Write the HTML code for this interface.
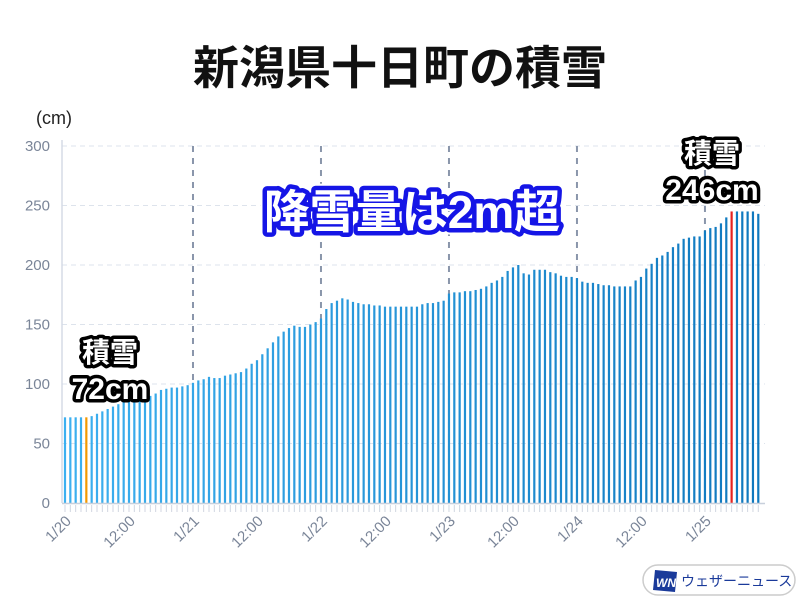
<!DOCTYPE html>
<html><head><meta charset="utf-8"><style>
html,body{margin:0;padding:0;background:#fff;}
svg{display:block;font-family:"Liberation Sans","Noto Sans CJK JP",sans-serif;}
</style></head><body>
<svg id="s" width="800" height="600" viewBox="0 0 800 600" xmlns="http://www.w3.org/2000/svg">
<text x="400" y="84" text-anchor="middle" font-size="46" font-weight="bold" fill="#111">新潟県十日町の積雪</text>
<text x="36" y="124" font-size="18" fill="#222">(cm)</text>
<g id="grid"></g>
<g id="bars"></g>
<g id="ticks"></g>
<g id="labels" font-size="15" fill="#7a8598"></g>
<g font-weight="bold" font-size="30" text-anchor="middle" paint-order="stroke" stroke-linejoin="round">
<text x="110" y="362" font-size="28" fill="#fff" stroke="#000" stroke-width="7">積雪</text>
<text x="110" y="399" fill="#fff" stroke="#000" stroke-width="7">72cm</text>
<text x="712" y="163" font-size="28" fill="#fff" stroke="#000" stroke-width="7">積雪</text>
<text x="712" y="200" fill="#fff" stroke="#000" stroke-width="7">246cm</text>
</g>
<g font-weight="bold" font-size="46" text-anchor="middle" stroke-linejoin="round">
<text x="412" y="228" fill="#fff" stroke="#fff" stroke-width="13">降雪量は2m超</text>
<text x="412" y="228" fill="#fff" stroke="#1515e6" stroke-width="9" paint-order="stroke">降雪量は2m超</text>
</g>
<rect x="643" y="565" width="152" height="30" rx="15" fill="#fff" stroke="#ccc" stroke-width="1.5"/>
<polygon points="655,570 677,572 675,592 653,590" fill="#1a3a9a"/>
<text x="656" y="587" font-size="12" font-weight="bold" font-style="italic" fill="#fff">WN</text>
<text x="681" y="586" font-size="14" fill="#1a3a9a">ウェザーニュース</text>
</svg>
<script>
var v=[72,72,72,72,72,73,75,77,79,81,83,85,86,87,88,89,90,92,95,96,97,97,98,99,101,103,104,106,105,105,107,108,109,110,113,117,120,125,130,135,140,144,147,149,148,148,150,152,
155,163,168,170,172,171,169,168,167,167,166,166,165,165,165,165,165,165,165,167,168,168,169,170,
176,177,177,178,178,179,180,182,185,187,190,195,198,200,193,192,196,196,196,194,193,191,190,190,
189,186,185,185,184,183,183,182,182,182,182,187,190,197,201,206,208,211,215,218,222,223,224,224,
229,231,232,235,240,245,245,245,245,245,243];
var NS="http://www.w3.org/2000/svg";
function el(p,t,a,txt){var e=document.createElementNS(NS,t);for(var k in a)e.setAttribute(k,a[k]);if(txt)e.textContent=txt;document.getElementById(p).appendChild(e);return e;}
var y0=503,k=(503-146)/300,x0=65,dx=5.333;
for(var i=0;i<=6;i++){var y=y0-i*50*k;
 if(i>0)el("grid","line",{x1:62,x2:765,y1:y,y2:y,stroke:"#dde3ec","stroke-width":1,"stroke-dasharray":"5,4"});
 el("labels","text",{x:50,y:y+5,"text-anchor":"end","font-size":15},String(i*50));}
el("grid","line",{x1:62,x2:62,y1:140,y2:503,stroke:"#d5dbe5","stroke-width":1.5});
for(var d=1;d<=5;d++){var x=x0+d*24*dx;el("grid","line",{x1:x,x2:x,y1:146,y2:503,stroke:"#8a96ab","stroke-width":2,"stroke-dasharray":"6,6"});}
for(var i=0;i<v.length;i++){var x=x0+i*dx,h=v[i]*k,t=i/130;
 var r=Math.round(60-45*t),g=Math.round(176-56*t),b=Math.round(240-50*t);
 var c="rgb("+r+","+g+","+b+")";if(i==4)c="#f39800";if(i==125)c="#e8231f";
 el("bars","rect",{x:x-1.1,y:y0-h,width:2.2,height:h,fill:c});
 el("ticks","line",{x1:x,x2:x,y1:505,y2:512,stroke:"#d0d6e0","stroke-width":1});}
el("ticks","line",{x1:62,x2:765,y1:503.5,y2:503.5,stroke:"#c8d0dc","stroke-width":1.5});
var labs=["1/20","12:00","1/21","12:00","1/22","12:00","1/23","12:00","1/24","12:00","1/25"];
for(var j=0;j<labs.length;j++){var x=x0+j*12*dx+7,y=522;
 el("labels","text",{x:x,y:y,"text-anchor":"end",transform:"rotate(-45 "+x+" "+y+")"},labs[j]);}
</script>
</body></html>
